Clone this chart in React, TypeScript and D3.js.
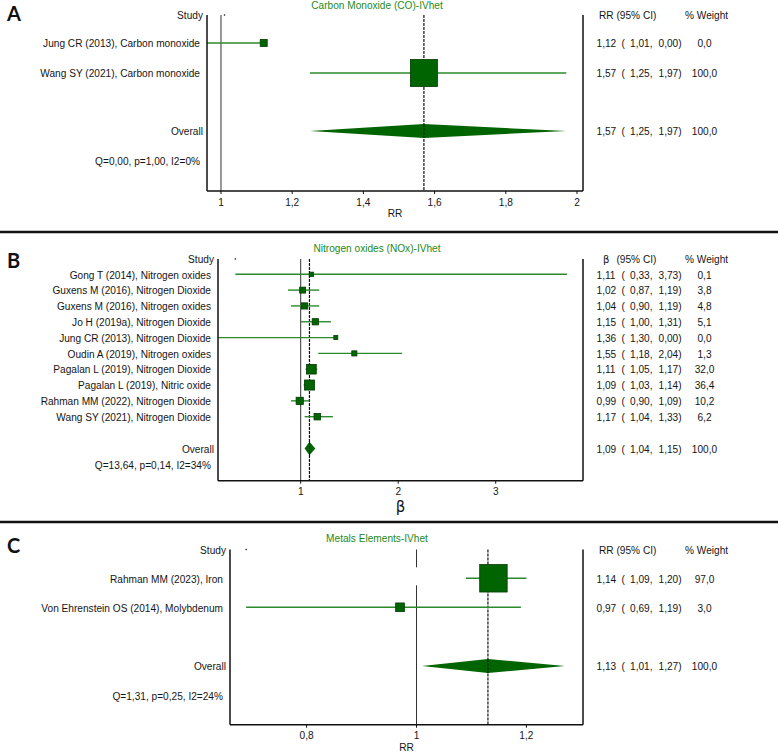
import React from "react";
import * as d3 from "d3";

// ---------- DATA ----------
const coStudies = ["Jung CR (2013), Carbon monoxide", "Wang SY (2021), Carbon monoxide"];
const coEst = [1.12, 1.57];
const coLo = [1.01, 1.25];
const coHi = [0.0, 1.97];
const coWeight = [0.0, 100.0];
const coOverall = [1.57, 1.25, 1.97];
const coHet = "Q=0,00, p=1,00, I2=0%";
const coTicks = [1, 1.2, 1.4, 1.6, 1.8, 2];

const noxStudies = [
  "Gong T (2014), Nitrogen oxides",
  "Guxens M (2016), Nitrogen Dioxide",
  "Guxens M (2016), Nitrogen oxides",
  "Jo H (2019a), Nitrogen Dioxide",
  "Jung CR (2013), Nitrogen Dioxide",
  "Oudin A (2019), Nitrogen oxides",
  "Pagalan L (2019), Nitrogen Dioxide",
  "Pagalan L (2019), Nitric oxide",
  "Rahman MM (2022), Nitrogen Dioxide",
  "Wang SY (2021), Nitrogen Dioxide",
];
const noxEst = [1.11, 1.02, 1.04, 1.15, 1.36, 1.55, 1.11, 1.09, 0.99, 1.17];
const noxLo = [0.33, 0.87, 0.9, 1.0, 1.3, 1.18, 1.05, 1.03, 0.9, 1.04];
const noxHi = [3.73, 1.19, 1.19, 1.31, 0.0, 2.04, 1.17, 1.14, 1.09, 1.33];
const noxWeight = [0.1, 3.8, 4.8, 5.1, 0.0, 1.3, 32.0, 36.4, 10.2, 6.2];
const noxOverall = [1.09, 1.04, 1.15];
const noxHet = "Q=13,64, p=0,14, I2=34%";
const noxTicks = [1, 2, 3];

const metStudies = ["Rahman MM (2023), Iron", "Von Ehrenstein OS (2014), Molybdenum"];
const metEst = [1.14, 0.97];
const metLo = [1.09, 0.69];
const metHi = [1.2, 1.19];
const metWeight = [97.0, 3.0];
const metOverall = [1.13, 1.01, 1.27];
const metHet = "Q=1,31, p=0,25, I2=24%";
const metTicks = [0.8, 1, 1.2];

// ---------- STYLE ----------
const FONT = "'Liberation Sans', Arial, Helvetica, sans-serif";
const TXT = "#151515";
const BOX = "#006400";
const BOX_EDGE = "#013a01";
const CI = "#2b8a2b";
const TITLE = "#1b8a1b";

const loc = d3.formatLocale({ decimal: ",", thousands: ".", grouping: [3], currency: ["", ""] });
const f2 = loc.format(".2f");
const f1 = loc.format(".1f");
const fTick = loc.format("~g");

function T({ x, y, children, anchor = "start", size = 11.5, fill = TXT, sx = 0.88, family = FONT, weight = "normal" }: any) {
  return (
    <text
      transform={`translate(${x},${y}) scale(${sx},1)`}
      textAnchor={anchor}
      dominantBaseline="central"
      fontSize={size}
      fill={fill}
      fontFamily={family}
      fontWeight={weight}
    >
      {children}
    </text>
  );
}

type Cfg = {
  letter: string;
  letterY: number;
  title: string;
  titleY: number;
  studies: string[];
  est: number[];
  lo: number[];
  hi: number[];
  weight: number[];
  overall: number[];
  het: string;
  ticks: number[];
  domain: [number, number];
  left: number;
  right: number;
  top: number;
  rowStart: number;
  rowStep: number;
  overallY: number;
  hetY: number;
  bottom: number;
  axisLabel: string;
  axisLabelY: number;
  effLabel: string;
  effX: number;
  boxRange: [number, number];
  diamondH: number;
  nullGapRows: number[];
};

const panels: Cfg[] = [
  {
    letter: "A", letterY: 21, title: "Carbon Monoxide (CO)-IVhet", titleY: 5,
    studies: coStudies, est: coEst, lo: coLo, hi: coHi, weight: coWeight, overall: coOverall, het: coHet, ticks: coTicks,
    domain: [0.9607, 2.0169], left: 207, right: 583, top: 15, rowStart: 43, rowStep: 30, overallY: 131, hetY: 161, bottom: 191,
    axisLabel: "RR", axisLabelY: 213, effLabel: "RR", effX: 599, boxRange: [7, 27], diamondH: 7, nullGapRows: [],
  },
  {
    letter: "B", letterY: 268, title: "Nitrogen oxides (NOx)-IVhet", titleY: 248,
    studies: noxStudies, est: noxEst, lo: noxLo, hi: noxHi, weight: noxWeight, overall: noxOverall, het: noxHet, ticks: noxTicks,
    domain: [0.152, 3.895], left: 218, right: 583, top: 259, rowStart: 274.3, rowStep: 15.82, overallY: 448.5, hetY: 464.3, bottom: 480.7,
    axisLabel: "β", axisLabelY: 507, effLabel: "β", effX: 603, boxRange: [4, 14], diamondH: 6.7, nullGapRows: [],
  },
  {
    letter: "C", letterY: 552.5, title: "Metals Elements-IVhet", titleY: 538,
    studies: metStudies, est: metEst, lo: metLo, hi: metHi, weight: metWeight, overall: metOverall, het: metHet, ticks: metTicks,
    domain: [0.6606, 1.303], left: 230, right: 583, top: 549.5, rowStart: 578.3, rowStep: 29, overallY: 666, hetY: 695.3, bottom: 724.7,
    axisLabel: "RR", axisLabelY: 747, effLabel: "RR", effX: 599, boxRange: [4.7, 27.8], diamondH: 7, nullGapRows: [0],
  },
];

function Panel({ c }: { c: Cfg }) {
  const x = d3.scaleLinear().domain(c.domain).range([c.left, c.right]);
  const xc = x.copy().clamp(true);
  const box = d3.scaleSqrt().domain([0, 100]).range(c.boxRange);
  const rowY = (i: number) => c.rowStart + i * c.rowStep;
  const [oEst, oLo, oHi] = c.overall;
  const ciX0 = 596.5;

  // null line segments (with optional gaps around given rows)
  const gaps = c.nullGapRows.map((i) => [rowY(i) - 11, rowY(i) + 7]).sort((a, b) => a[0] - b[0]);
  const segs: [number, number][] = [];
  let s = c.top;
  gaps.forEach(([g0, g1]) => {
    segs.push([s, g0]);
    s = g1;
  });
  segs.push([s, c.bottom]);

  const valueRow = (e: number, l: number, h: number, w: number, y: number, key: string) => (
    <g key={key}>
      <T x={ciX0} y={y}>{f2(e)}</T>
      <T x={ciX0 + 25} y={y}>(</T>
      <T x={ciX0 + 33.5} y={y}>{f2(l) + ","}</T>
      <T x={ciX0 + 62} y={y}>{f2(h) + ")"}</T>
      <T x={704.5} y={y} anchor="middle">{f1(w)}</T>
    </g>
  );

  const minLo = d3.min(c.lo) as number;

  return (
    <g>
      <text x={7} y={c.letterY} fontFamily="Lato, 'Open Sans', sans-serif" fontWeight="bold" fontSize={20} fill="#111">
        {c.letter}
      </text>
      <T x={377} y={c.titleY} anchor="middle" fill={TITLE}>{c.title}</T>

      {/* header */}
      <T x={c.left - 4} y={c.top} anchor="end">Study</T>
      <circle cx={x(minLo)} cy={c.top} r={0.8} fill="#111" />
      {c.effLabel === "β" ? (
        <text x={c.effX} y={c.top + 3.5} fontFamily="'DejaVu Sans', sans-serif" fontSize={10} fill={TXT}>β</text>
      ) : (
        <T x={c.effX} y={c.top}>{c.effLabel}</T>
      )}
      <T x={616.5} y={c.top}>(95% CI)</T>
      <T x={685} y={c.top}>% Weight</T>

      {/* null line */}
      {segs.map(([a, b], i) => (
        <line key={"n" + i} x1={x(1)} x2={x(1)} y1={a} y2={b} stroke="#333" strokeWidth={1} />
      ))}
      {/* overall dashed line */}
      <line x1={x(oEst)} x2={x(oEst)} y1={c.top} y2={c.bottom} stroke="#111" strokeWidth={1.2} strokeDasharray="3,1" />

      {/* studies */}
      {c.studies.map((name, i) => {
        const y = rowY(i);
        const e = c.est[i];
        const vals = [c.lo[i], c.hi[i], e];
        const a = xc(d3.min(vals) as number);
        const b = xc(d3.max(vals) as number);
        const sz = box(c.weight[i]);
        return (
          <g key={name}>
            <T x={c.left - 7} y={y} anchor="end">{name}</T>
            <line x1={a} x2={b} y1={y} y2={y} stroke={CI} strokeWidth={1.4} />
            <rect x={x(e) - sz / 2} y={y - sz / 2} width={sz} height={sz} fill={BOX} stroke={BOX_EDGE} strokeWidth={0.8} />
            {valueRow(e, c.lo[i], c.hi[i], c.weight[i], y, "v" + i)}
          </g>
        );
      })}

      {/* overall */}
      <T x={c.left - 4} y={c.overallY} anchor="end">Overall</T>
      <path
        d={`M${x(oLo)},${c.overallY}L${x(oEst)},${c.overallY - c.diamondH}L${x(oHi)},${c.overallY}L${x(oEst)},${c.overallY + c.diamondH}Z`}
        fill={BOX}
      />
      <line x1={x(oEst)} x2={x(oEst)} y1={c.overallY - c.diamondH} y2={c.overallY + c.diamondH} stroke="#111" strokeWidth={1} strokeDasharray="3,1" />
      {valueRow(oEst, oLo, oHi, 100, c.overallY, "ov")}
      <T x={c.left - 7} y={c.hetY} anchor="end">{c.het}</T>

      {/* axes frame */}
      <line x1={c.left} x2={c.left} y1={c.top} y2={c.bottom} stroke="#111" strokeWidth={1.5} />
      <line x1={c.right} x2={c.right} y1={c.top} y2={c.bottom} stroke="#111" strokeWidth={1.5} />
      <line x1={c.left} x2={c.right} y1={c.bottom} y2={c.bottom} stroke="#111" strokeWidth={1.5} />
      {c.ticks.map((t) => (
        <g key={"t" + t}>
          <line x1={x(t)} x2={x(t)} y1={c.bottom} y2={c.bottom + 3} stroke="#111" strokeWidth={1} />
          <T x={x(t)} y={c.bottom + 10.5} anchor="middle">{fTick(t)}</T>
        </g>
      ))}
      {c.axisLabel === "β" ? (
        <text x={(c.left + c.right) / 2} y={c.axisLabelY} textAnchor="middle" dominantBaseline="central" fontFamily="'DejaVu Sans', sans-serif" fontSize={15} fill={TXT}>
          β
        </text>
      ) : (
        <T x={(c.left + c.right) / 2} y={c.axisLabelY} anchor="middle">{c.axisLabel}</T>
      )}
    </g>
  );
}

export default function App() {
  return (
    <svg width={778} height={752} style={{ position: "absolute", left: 0, top: 0, background: "#fff" }}>
      <rect width={778} height={752} fill="#fff" />
      {panels.map((p) => (
        <Panel key={p.letter} c={p} />
      ))}
      <line x1={0} x2={778} y1={232} y2={232} stroke="#111" strokeWidth={2.5} />
      <line x1={0} x2={778} y1={522} y2={522} stroke="#111" strokeWidth={2.5} />
    </svg>
  );
}
